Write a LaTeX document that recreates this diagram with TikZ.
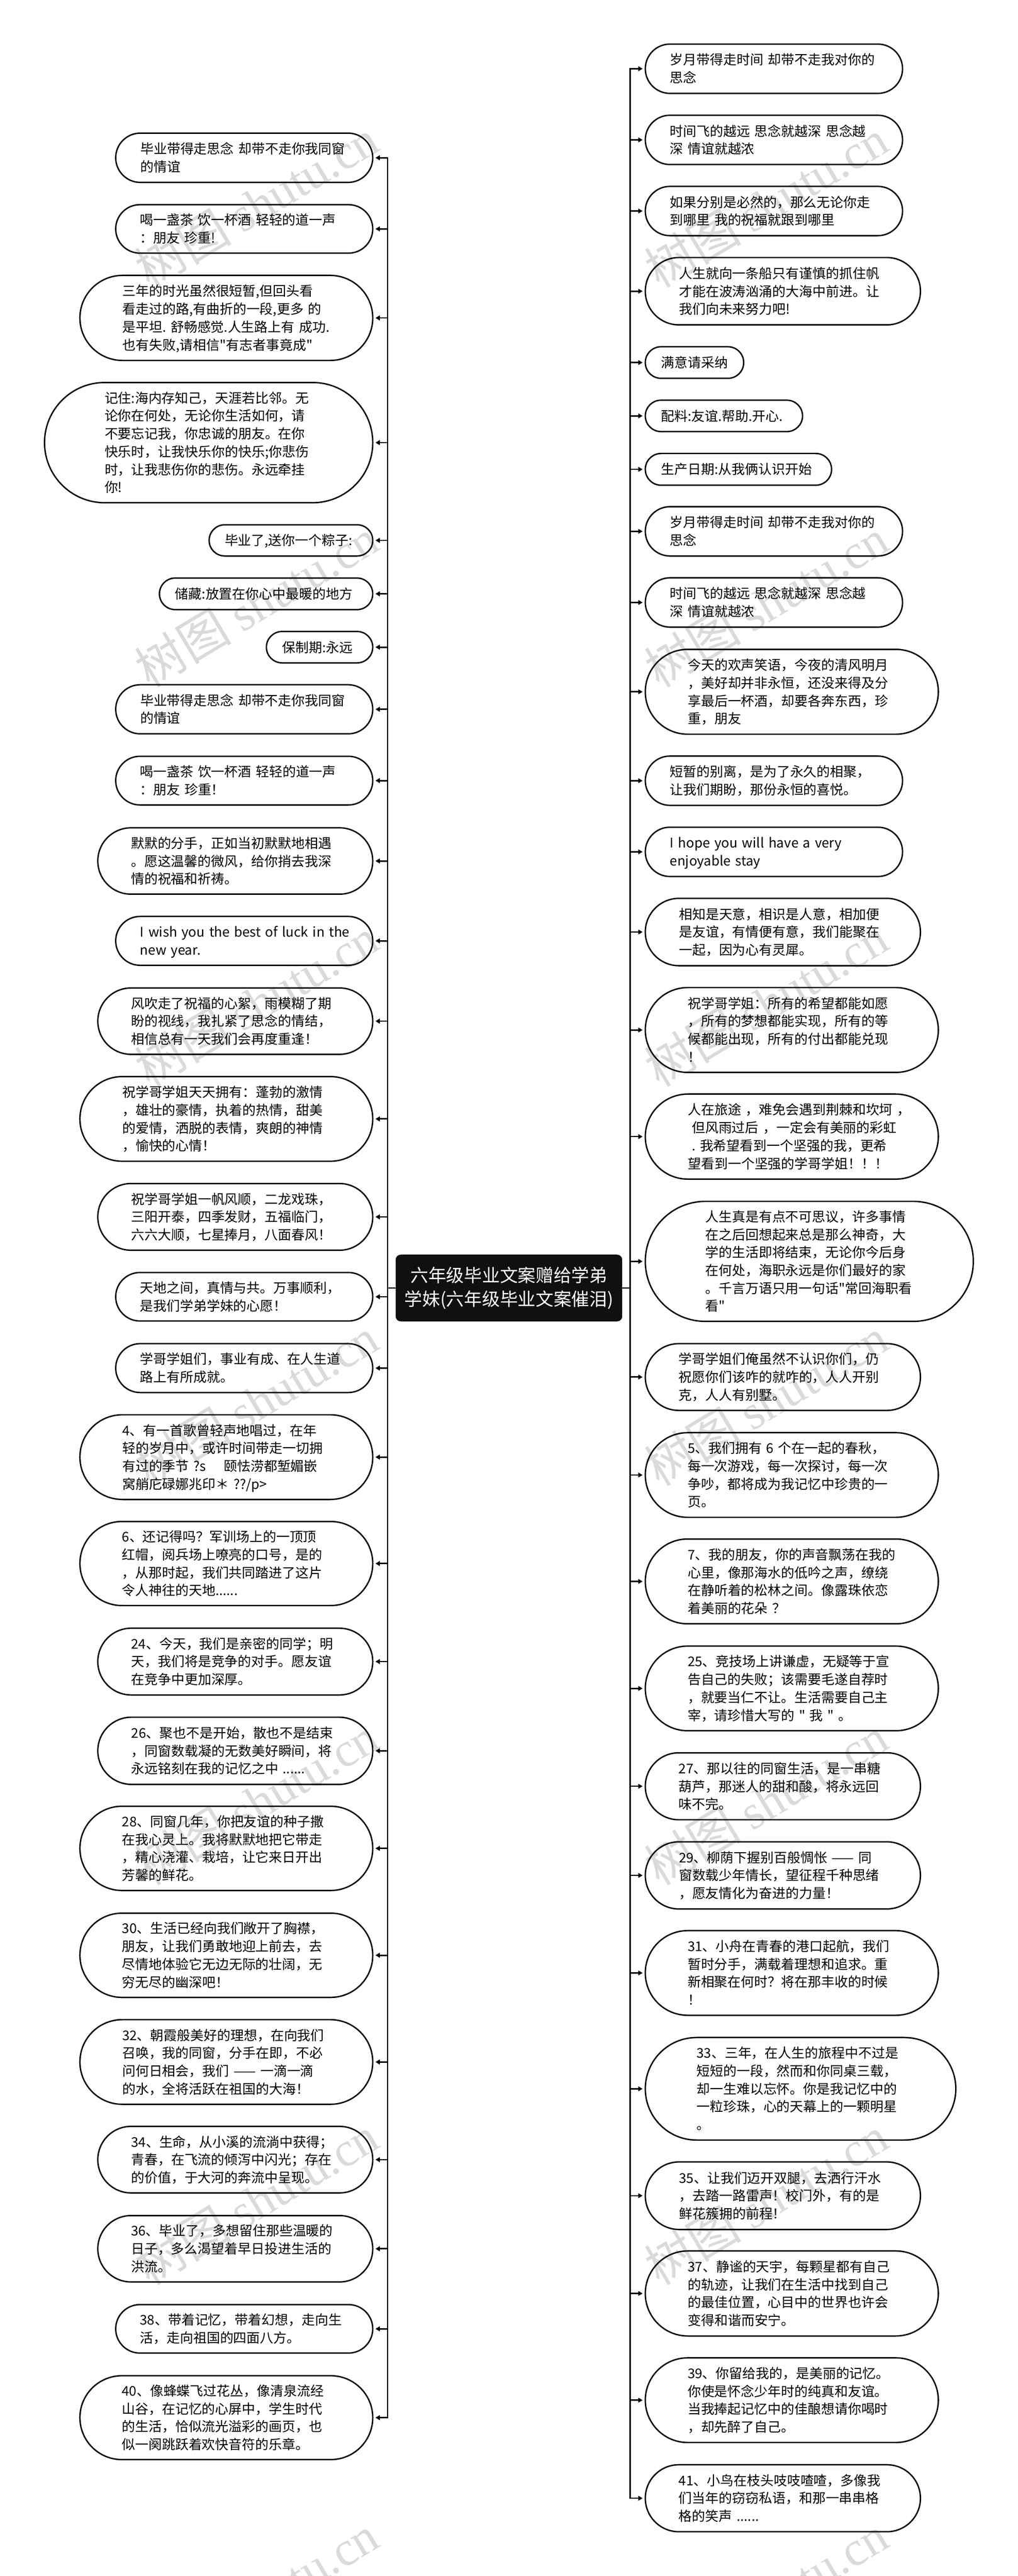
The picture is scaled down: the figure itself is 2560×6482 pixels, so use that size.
\documentclass[tikz,border=0pt]{standalone}
\usepackage{fontspec}
\setmainfont{Noto Sans CJK SC}[Ligatures=TeXOff]
\newfontfamily\wmfont{Liberation Serif}
\usetikzlibrary{arrows.meta}
\definecolor{wmgray}{HTML}{DADADA}
\definecolor{rootfill}{HTML}{101010}
\newcommand\Ls{\rule[-9.7pt]{0pt}{45pt}}
\newcommand\NL{\\\Ls}
\tikzset{
  x=1pt,y=-1pt,
  pillbox/.style={draw=black,line width=3.5pt,inner sep=0pt,align=left,
    font=\fontsize{33.6}{45}\selectfont,text=black},
  conn/.style={draw=black,line width=3.5pt,line join=miter,shorten >=5pt,
    -{Triangle[length=11pt,width=12pt]}},
  wmark/.style={text=wmgray,rotate=31,inner sep=0pt,font=\fontsize{122}{130}\selectfont},
  rootbox/.style={fill=rootfill,draw=none,rounded corners=13pt,inner sep=0pt,align=center,
    text=white,minimum width=570pt,minimum height=168pt,font=\fontsize{45}{60}\selectfont}
}
% name, left, right, top, bottom, text
\newcommand\pill[6]{%
  \pgfmathsetmacro\pw{#3-#2}\pgfmathsetmacro\ph{#5-#4}%
  \pgfmathsetmacro\pcx{(#2+#3)/2}\pgfmathsetmacro\pcy{(#4+#5)/2}%
  \pgfmathsetmacro\pr{\ph/2-0.01}\pgfmathsetmacro\ptw{\pw-\ph}%
  \node[pillbox,minimum width=\pw pt,minimum height=\ph pt,rounded corners=\pr pt,text width=\ptw pt]
    (#1) at (\pcx,\pcy) {\Ls #6};}
\newcommand\lft[4]{\pill{#1}{#2}{937.5}{#3}{#4}}
\begin{document}
\begin{tikzpicture}
\path[use as bounding box] (0,0) rectangle (2560,6482);
\fill[white] (0,0) rectangle (2560,6482);
% watermarks
\foreach \k in {0,...,6}{
  \node[wmark] (wl\k) at (645,{512+1005*\k}) {树图 {\wmfont shutu.cn}};
  \node[wmark] (wr\k) at (1927,{512+1005*\k}) {树图 {\wmfont shutu.cn}};
}
\node[rootbox] (root) at (1280,3241) {六年级毕业文案赠给学弟\\学妹(六年级毕业文案催泪)};
\coordinate (sl) at (975,3241);
\coordinate (sr) at (1585,3241);
% left column
\lft{L1}{291}{335}{459}{毕业带得走思念~却带不走你我同窗\NL 的情谊}
\lft{L2}{291}{515}{637}{喝一盏茶~饮一杯酒~轻轻的道一声\NL ：朋友~珍重!}
\lft{L3}{201}{693}{907}{三年的时光虽然很短暂,但回头看\NL 看走过的路,有曲折的一段,更多~的\NL 是平坦.~舒畅感觉.人生路上有~成功.\NL 也有失败,请相信"有志者事竟成"}
\lft{L4}{112}{962.5}{1265}{记住:海内存知己，天涯若比邻。无\NL 论你在何处，无论你生活如何，请\NL 不要忘记我，你忠诚的朋友。在你\NL 快乐时，让我快乐你的快乐;你悲伤\NL 时，让我悲伤你的悲伤。永远牵挂\NL 你!}
\lft{L5}{526}{1320.5}{1399}{毕业了,送你一个粽子:}
\lft{L6}{401}{1454.5}{1534}{储藏:放置在你心中最暖的地方}
\lft{L7}{670}{1589}{1668}{保制期:永远}
\lft{L8}{291}{1723}{1846.5}{毕业带得走思念~却带不走你我同窗\NL 的情谊}
\lft{L9}{291}{1903}{2025.5}{喝一盏茶~饮一杯酒~轻轻的道一声\NL ：朋友~珍重！}
\lft{L10}{246}{2083}{2250}{默默的分手，正如当初默默地相遇\NL 。愿这温馨的微风，给你捎去我深\NL 情的祝福和祈祷。}
\lft{L11}{291}{2306}{2429}{I~wish~you~the~best~of~luck~in~the\NL new~year.}
\lft{L12}{246}{2486}{2653}{风吹走了祝福的心絮，雨模糊了期\NL 盼的视线，我扎紧了思念的情结，\NL 相信总有一天我们会再度重逢！}
\lft{L13}{201}{2709}{2922}{祝学哥学姐天天拥有：蓬勃的激情\NL ，雄壮的豪情，执着的热情，甜美\NL 的爱情，洒脱的表情，爽朗的神情\NL ，愉快的心情！}
\lft{L14}{246}{2978}{3146}{祝学哥学姐一帆风顺，二龙戏珠，\NL 三阳开泰，四季发财，五福临门，\NL 六六大顺，七星捧月，八面春风！}
\lft{L15}{291}{3202}{3324}{天地之间，真情与共。万事顺利，\NL 是我们学弟学妹的心愿！}
\lft{L16}{291}{3381}{3504}{学哥学姐们，事业有成、在人生道\NL 路上有所成就。}
\lft{L17}{201}{3560}{3773}{4、有一首歌曾轻声地唱过，在年\NL 轻的岁月中，或许时间带走一切拥\NL 有过的季节~?s~~~~颐怯涝都堑媚嵌\NL 窝艄庀碌娜兆印＊~??/p>}
\lft{L18}{201}{3828.5}{4040}{6、还记得吗？军训场上的一顶顶\NL 红帽，阅兵场上嘹亮的口号，是的\NL ，从那时起，我们共同踏进了这片\NL 令人神往的天地......}
\lft{L19}{246}{4097}{4265}{24、今天，我们是亲密的同学；明\NL 天，我们将是竞争的对手。愿友谊\NL 在竞争中更加深厚。}
\lft{L20}{246}{4321}{4490}{26、聚也不是开始，散也不是结束\NL ，同窗数载凝的无数美好瞬间，将\NL 永远铭刻在我的记忆之中~......}
\lft{L21}{201}{4545}{4757}{28、同窗几年，你把友谊的种子撒\NL 在我心灵上。我将默默地把它带走\NL ，精心浇灌、栽培，让它来日开出\NL 芳馨的鲜花。}
\lft{L22}{201}{4814}{5026}{30、生活已经向我们敞开了胸襟，\NL 朋友，让我们勇敢地迎上前去，去\NL 尽情地体验它无边无际的壮阔，无\NL 穷无尽的幽深吧！}
\lft{L23}{201}{5082}{5295}{32、朝霞般美好的理想，在向我们\NL 召唤，我的同窗，分手在即，不必\NL 问何日相会，我们~——~一滴一滴\NL 的水，全将活跃在祖国的大海！}
\lft{L24}{246}{5350.5}{5518}{34、生命，从小溪的流淌中获得；\NL 青春，在飞流的倾泻中闪光；存在\NL 的价值，于大河的奔流中呈现。}
\lft{L25}{246}{5575}{5742}{36、毕业了，多想留住那些温暖的\NL 日子，多么渴望着早日投进生活的\NL 洪流。}
\lft{L26}{291}{5799}{5921}{38、带着记忆，带着幻想，走向生\NL 活，走向祖国的四面八方。}
\lft{L27}{201}{5978}{6189}{40、像蜂蝶飞过花丛，像清泉流经\NL 山谷，在记忆的心屏中，学生时代\NL 的生活，恰似流光溢彩的画页，也\NL 似一阕跳跃着欢快音符的乐章。}
% right column
\pill{R1}{1623}{2270}{111}{235}{岁月带得走时间~却带不走我对你的\NL 思念}
\pill{R2}{1623}{2270}{290}{414}{时间飞的越远~思念就越深~思念越\NL 深~情谊就越浓}
\pill{R3}{1623}{2270}{469}{593}{如果分别是必然的，那么无论你走\NL 到哪里~我的祝福就跟到哪里}
\pill{R4}{1623}{2315}{648}{817.5}{人生就向一条船只有谨慎的抓住帆\NL 才能在波涛汹涌的大海中前进。让\NL 我们向未来努力吧!}
\pill{R5}{1623}{1870.5}{872.5}{952}{满意请采纳}
\pill{R6}{1623}{2018.5}{1007}{1086}{配料:友谊.帮助.开心.}
\pill{R7}{1623}{2091.5}{1141}{1221}{生产日期:从我俩认识开始}
\pill{R8}{1623}{2270}{1275}{1399}{岁月带得走时间~却带不走我对你的\NL 思念}
\pill{R9}{1623}{2270}{1454}{1578}{时间飞的越远~思念就越深~思念越\NL 深~情谊就越浓}
\pill{R10}{1623}{2360}{1634}{1847.5}{今天的欢声笑语，今夜的清风明月\NL ，美好却并非永恒，还没来得及分\NL 享最后一杯酒，却要各奔东西，珍\NL 重，朋友}
\pill{R11}{1623}{2270}{1902.5}{2026.5}{短暂的别离，是为了永久的相聚，\NL 让我们期盼，那份永恒的喜悦。}
\pill{R12}{1623}{2270}{2081.5}{2205.5}{I~hope~you~will~have~a~very\NL enjoyable~stay}
\pill{R13}{1623}{2315}{2260.5}{2430}{相知是天意，相识是人意，相加便\NL 是友谊，有情便有意，我们能聚在\NL 一起，因为心有灵犀。}
\pill{R14}{1623}{2360}{2485}{2698.5}{祝学哥学姐：所有的希望都能如愿\NL ，所有的梦想都能实现，所有的等\NL 候都能出现，所有的付出都能兑现\NL ！}
\pill{R15}{1623}{2360}{2753}{2967}{人在旅途~，难免会遇到荆棘和坎坷~，\NL \hspace*{10pt}但风雨过后~，一定会有美丽的彩虹\NL \hspace*{10pt}.~我希望看到一个坚强的我，更希\NL 望看到一个坚强的学哥学姐！！！}
\pill{R16}{1623}{2448}{3023}{3325}{人生真是有点不可思议，许多事情\NL 在之后回想起来总是那么神奇，大\NL 学的生活即将结束，无论你今后身\NL 在何处，海职永远是你们最好的家\NL 。千言万语只用一句话"常回海职看\NL 看"}
\pill{R17}{1623}{2315}{3381}{3549}{学哥学姐们俺虽然不认识你们，仍\NL 祝愿你们该咋的就咋的，人人开别\NL 克，人人有别墅。}
\pill{R18}{1623}{2360}{3605}{3818}{5、我们拥有~6~个在一起的春秋，\NL 每一次游戏，每一次探讨，每一次\NL 争吵，都将成为我记忆中珍贵的一\NL 页。}
\pill{R19}{1623}{2360}{3872.5}{4086}{7、我的朋友，你的声音飘荡在我的\NL 心里，像那海水的低吟之声，缭绕\NL 在静听着的松林之间。像露珠依恋\NL 着美丽的花朵~？}
\pill{R20}{1623}{2360}{4142}{4355}{25、竞技场上讲谦虚，无疑等于宣\NL 告自己的失败；该需要毛遂自荐时\NL ，就要当仁不让。生活需要自己主\NL 宰，请珍惜大写的~"~我~"~。}
\pill{R21}{1623}{2315}{4410.5}{4579}{27、那以往的同窗生活，是一串糖\NL 葫芦，那迷人的甜和酸，将永远回\NL 味不完。}
\pill{R22}{1623}{2315}{4634.5}{4803.5}{29、柳荫下握别百般惆怅~——~同\NL 窗数载少年情长，望征程千种思绪\NL ，愿友情化为奋进的力量！}
\pill{R23}{1623}{2360}{4858}{5071}{31、小舟在青春的港口起航，我们\NL 暂时分手，满载着理想和追求。重\NL 新相聚在何时？将在那丰收的时候\NL ！}
\pill{R24}{1623}{2404}{5127}{5385}{33、三年，在人生的旅程中不过是\NL 短短的一段，然而和你同桌三载，\NL 却一生难以忘怀。你是我记忆中的\NL 一粒珍珠，心的天幕上的一颗明星\NL 。}
\pill{R25}{1623}{2315}{5440}{5610}{35、让我们迈开双腿，去洒行汗水\NL ，去踏一路雷声！校门外，有的是\NL 鲜花簇拥的前程！}
\pill{R26}{1623}{2360}{5664}{5878}{37、静谧的天宇，每颗星都有自己\NL 的轨迹，让我们在生活中找到自己\NL 的最佳位置，心目中的世界也许会\NL 变得和谐而安宁。}
\pill{R27}{1623}{2360}{5933}{6146}{39、你留给我的，是美丽的记忆。\NL 你使是怀念少年时的纯真和友谊。\NL 当我捧起记忆中的佳酿想请你喝时\NL ，却先醉了自己。}
\pill{R28}{1623}{2315}{6202}{6370.5}{41、小鸟在枝头吱吱喳喳，多像我\NL 们当年的窃窃私语，和那一串串格\NL 格的笑声~......}
% connectors
\foreach \i in {1,...,27}{\draw[conn] (root.west) -- (sl) |- (L\i.east);}
\foreach \i in {1,...,28}{\draw[conn] (root.east) -- (sr) |- (R\i.west);}
\end{tikzpicture}
\end{document}
